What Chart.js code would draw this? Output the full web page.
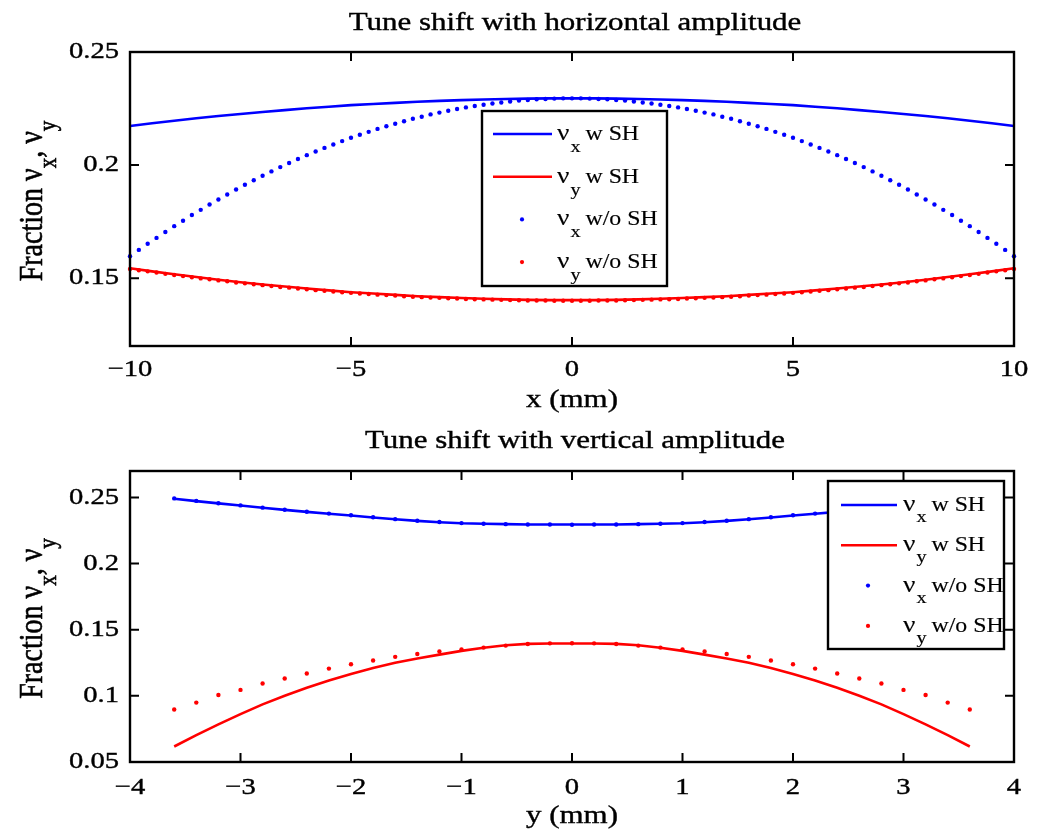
<!DOCTYPE html>
<html>
<head>
<meta charset="utf-8">
<title>Tune shift with amplitude</title>
<script src="https://cdn.jsdelivr.net/npm/chart.js@4/dist/chart.umd.min.js"></script>
<style>
  html, body { margin:0; padding:0; background:#ffffff; }
  .panel { position:absolute; left:0; width:1047px; height:416px; }
  canvas { display:block; }
</style>
</head>
<body>
<div class="panel" style="top:0"><canvas id="topChart" width="1047" height="416"></canvas></div>
<div class="panel" style="top:416px"><canvas id="bottomChart" width="1047" height="416"></canvas></div>
<script>
// ---------------- DATA ----------------
// Top panel: tune vs horizontal amplitude x (mm)
const xTopLine = [-10,-9.5,-9,-8.5,-8,-7.5,-7,-6.5,-6,-5.5,-5,-4.5,-4,-3.5,-3,-2.5,-2,-1.5,-1,-0.5,0,0.5,1,1.5,2,2.5,3,3.5,4,4.5,5,5.5,6,6.5,7,7.5,8,8.5,9,9.5,10];
const vxTopWithSH = [.2173,.2185,.2196,.2207,.2217,.2226,.2235,.2243,.2251,.2258,.2265,.2270,.2275,.2280,.2284,.2287,.2290,.2292,.2294,.2295,.2295,.2295,.2294,.2292,.2290,.2287,.2284,.2280,.2275,.2270,.2265,.2258,.2251,.2243,.2235,.2226,.2217,.2207,.2196,.2185,.2173];
const vyTopWithSH = [.1544,.1530,.1517,.1505,.1493,.1482,.1472,.1463,.1454,.1446,.1438,.1432,.1426,.1420,.1416,.1412,.1409,.1406,.1404,.1403,.1403,.1403,.1404,.1406,.1409,.1412,.1416,.1420,.1426,.1432,.1438,.1446,.1454,.1463,.1472,.1482,.1493,.1505,.1517,.1530,.1544];

const xTopDots = [-10,-9.8,-9.6,-9.4,-9.2,-9,-8.8,-8.6,-8.4,-8.2,-8,-7.8,-7.6,-7.4,-7.2,-7,-6.8,-6.6,-6.4,-6.2,-6,-5.8,-5.6,-5.4,-5.2,-5,-4.8,-4.6,-4.4,-4.2,-4,-3.8,-3.6,-3.4,-3.2,-3,-2.8,-2.6,-2.4,-2.2,-2,-1.8,-1.6,-1.4,-1.2,-1,-0.8,-0.6,-0.4,-0.2,0,0.2,0.4,0.6,0.8,1,1.2,1.4,1.6,1.8,2,2.2,2.4,2.6,2.8,3,3.2,3.4,3.6,3.8,4,4.2,4.4,4.6,4.8,5,5.2,5.4,5.6,5.8,6,6.2,6.4,6.6,6.8,7,7.2,7.4,7.6,7.8,8,8.2,8.4,8.6,8.8,9,9.2,9.4,9.6,9.8,10];
const vxTopWithoutSH = [.1597,.1625,.1652,.1678,.1704,.1730,.1754,.1779,.1802,.1826,.1848,.1870,.1892,.1913,.1933,.1953,.1972,.1991,.2009,.2027,.2044,.2060,.2076,.2091,.2106,.2121,.2134,.2147,.2160,.2172,.2183,.2194,.2205,.2214,.2224,.2232,.2240,.2248,.2255,.2261,.2267,.2272,.2277,.2281,.2285,.2288,.2291,.2292,.2294,.2295,.2295,
  .2295,.2294,.2292,.2291,.2288,.2285,.2281,.2277,.2272,.2267,.2261,.2255,.2248,.2240,.2232,.2224,.2214,.2205,.2194,.2183,.2172,.2160,.2147,.2134,.2121,.2106,.2091,.2076,.2060,.2044,.2027,.2009,.1991,.1972,.1953,.1933,.1913,.1892,.1870,.1848,.1826,.1802,.1779,.1754,.1730,.1704,.1678,.1652,.1625,.1597];
const vyTopWithoutSH = [.1541,.1535,.1530,.1525,.1519,.1514,.1509,.1504,.1499,.1495,.1490,.1486,.1481,.1477,.1473,.1469,.1465,.1461,.1458,.1454,.1451,.1447,.1444,.1441,.1438,.1435,.1432,.1430,.1427,.1425,.1423,.1420,.1418,.1416,.1414,.1413,.1411,.1410,.1408,.1407,.1406,.1405,.1404,.1403,.1402,.1401,.1401,.1401,.1400,.1400,.1400,
  .1400,.1400,.1401,.1401,.1401,.1402,.1403,.1404,.1405,.1406,.1407,.1408,.1410,.1411,.1413,.1414,.1416,.1418,.1420,.1423,.1425,.1427,.1430,.1432,.1435,.1438,.1441,.1444,.1447,.1451,.1454,.1458,.1461,.1465,.1469,.1473,.1477,.1481,.1486,.1490,.1495,.1499,.1504,.1509,.1514,.1519,.1525,.1530,.1535,.1541];

// Bottom panel: tune vs vertical amplitude y (mm)
const xBottom = [-3.6,-3.4,-3.2,-3,-2.8,-2.6,-2.4,-2.2,-2,-1.8,-1.6,-1.4,-1.2,-1,-0.8,-0.6,-0.4,-0.2,0,0.2,0.4,0.6,0.8,1,1.2,1.4,1.6,1.8,2,2.2,2.4,2.6,2.8,3,3.2,3.4,3.6];
const vxBottomWithSH = [.2490,.2472,.2455,.2439,.2422,.2406,.2391,.2377,.2364,.2349,.2335,.2323,.2313,.2305,.2301,.2298,.2296,.2295,.2295,.2295,.2296,.2298,.2301,.2305,.2313,.2323,.2335,.2349,.2364,.2377,.2391,.2406,.2422,.2439,.2455,.2472,.2490];
const vyBottomWithSH = [.0617,.0703,.0785,.0862,.0936,.1001,.1061,.1116,.1166,.1211,.1250,.1283,.1312,.1340,.1364,.1383,.1393,.1396,.1396,.1396,.1393,.1383,.1364,.1340,.1312,.1283,.1250,.1211,.1166,.1116,.1061,.1001,.0936,.0862,.0785,.0703,.0617];
const vxBottomWithoutSH = [.2493,.2474,.2456,.2440,.2423,.2407,.2392,.2378,.2365,.2350,.2336,.2324,.2314,.2306,.2301,.2298,.2296,.2295,.2294,.2295,.2296,.2298,.2301,.2306,.2314,.2324,.2336,.2350,.2365,.2378,.2392,.2407,.2423,.2440,.2456,.2474,.2493];
const vyBottomWithoutSH = [.0897,.0949,.1006,.1045,.1094,.1131,.1169,.1206,.1239,.1267,.1295,.1317,.1335,.1350,.1365,.1380,.1392,.1397,.1398,.1397,.1392,.1380,.1365,.1350,.1335,.1317,.1295,.1267,.1239,.1206,.1169,.1131,.1094,.1045,.1006,.0949,.0897];

// Ticks and labels
const xTicksTop = [-10,-5,0,5,10];
const xTickLabelsTop = ['\u221210','\u22125','0','5','10'];
const yTicksTop = [0.15,0.2,0.25];
const yTickLabelsTop = ['0.15','0.2','0.25'];
const xTicksBottom = [-4,-3,-2,-1,0,1,2,3,4];
const xTickLabelsBottom = ['\u22124','\u22123','\u22122','\u22121','0','1','2','3','4'];
const yTicksBottom = [0.05,0.1,0.15,0.2,0.25];
const yTickLabelsBottom = ['0.05','0.1','0.15','0.2','0.25'];

// Text
const titleTop = 'Tune shift with horizontal amplitude';
const titleBottom = 'Tune shift with vertical amplitude';
const xTitleTop = 'x (mm)';
const xTitleBottom = 'y (mm)';
const seriesSymbol = ['\u03bd','\u03bd','\u03bd','\u03bd'];
const seriesSub = ['x','y','x','y'];
const seriesRest = ['w SH','w SH','w/o SH','w/o SH'];

// ---------------- RENDERING ----------------
const SX = 1.19;
const FONT = '"Liberation Serif", "Times New Roman", Times, serif';
const BLUE = '#0000ff', RED = '#ff0000';
Chart.defaults.font.family = FONT;
Chart.defaults.color = '#000000';

function stretchContext(canvas) {
  const ctx = canvas.getContext('2d');
  const plain = ctx.fillText.bind(ctx);
  const plainStroke = ctx.strokeText.bind(ctx);
  ctx.textWeight = 0.4;
  ctx.plainFillText = function (t, x, y) {
    plain(t, x, y);
    ctx.save(); ctx.strokeStyle = ctx.fillStyle; ctx.lineWidth = 0.5; plainStroke(t, x, y); ctx.restore();
  };
  ctx.fillText = function (t, x, y) {
    this.save();
    this.translate(x, y);
    this.scale(SX, 1);
    plain(t, 0, 0);
    this.strokeStyle = this.fillStyle; this.lineWidth = this.textWeight;
    plainStroke(t, 0, 0);
    this.restore();
  };
}

const framePlugin = {
  id: 'frame',
  afterDatasetsDraw(chart, args, o) {
    const ctx = chart.ctx, a = chart.chartArea;
    const xs = chart.scales.x, ys = chart.scales.y;
    ctx.save();
    ctx.strokeStyle = '#000'; ctx.lineWidth = 2;
    const L = 9;
    ctx.beginPath();
    xs.ticks.forEach(t => {
      const px = xs.getPixelForValue(t.value);
      ctx.moveTo(px, a.bottom); ctx.lineTo(px, a.bottom - L);
      ctx.moveTo(px, a.top); ctx.lineTo(px, a.top + L);
    });
    ys.ticks.forEach(t => {
      const py = ys.getPixelForValue(t.value);
      ctx.moveTo(a.left, py); ctx.lineTo(a.left + L, py);
      ctx.moveTo(a.right, py); ctx.lineTo(a.right - L, py);
    });
    ctx.stroke();
    ctx.lineWidth = 2.4;
    ctx.strokeRect(a.left, a.top, a.right - a.left, a.bottom - a.top);

    // legend
    const lg = o.legend;
    ctx.fillStyle = '#fff';
    ctx.fillRect(lg.x, lg.y, lg.w, lg.h);
    ctx.strokeStyle = '#000'; ctx.lineWidth = 2.4;
    ctx.strokeRect(lg.x, lg.y, lg.w, lg.h);
    ctx.textWeight = 0.15;
    chart.data.datasets.forEach((ds, i) => {
      const ry = lg.y + lg.first + i * lg.step;
      if (ds.showLine) {
        ctx.strokeStyle = ds.borderColor; ctx.lineWidth = 2.5;
        ctx.beginPath(); ctx.moveTo(lg.x + lg.l0, ry); ctx.lineTo(lg.x + lg.l1, ry); ctx.stroke();
      } else {
        ctx.fillStyle = ds.pointBackgroundColor;
        ctx.beginPath(); ctx.arc(lg.x + lg.dot, ry, 2.1, 0, Math.PI * 2); ctx.fill();
      }
      ctx.fillStyle = '#000'; ctx.textAlign = 'left'; ctx.textBaseline = 'alphabetic';
      let tx = lg.x + lg.tx;
      ctx.font = '23px ' + FONT;
      ctx.fillText(seriesSymbol[i], tx, ry + 6);
      tx += ctx.measureText(seriesSymbol[i]).width * SX + 1;
      ctx.font = '17px ' + FONT;
      ctx.fillText(seriesSub[i], tx, ry + 6 + lg.subDy);
      tx += ctx.measureText(seriesSub[i]).width * SX + 5;
      ctx.font = '20px ' + FONT;
      ctx.fillText(seriesRest[i], tx, ry + 6);
    });
    ctx.textWeight = 0.4;
    ctx.restore();
  },
  afterDraw(chart, args, o) {
    const ctx = chart.ctx, a = chart.chartArea;
    ctx.save();
    ctx.fillStyle = '#000';
    // title
    ctx.font = '26px ' + FONT;
    ctx.textAlign = 'center'; ctx.textBaseline = 'alphabetic';
    ctx.fillText(o.title, (a.left + a.right) / 2 + 3, o.titleY);
    // y-axis title with subscripts
    const runs = [
      {t: 'Fraction \u03bd', s: 28, dy: 0},
      {t: 'x', s: 21, dy: 12},
      {t: ', \u03bd', s: 28, dy: 0},
      {t: 'y', s: 21, dy: 12}
    ];
    let total = 0;
    runs.forEach(r => { ctx.font = r.s + 'px ' + FONT; r.w = ctx.measureText(r.t).width; total += r.w; });
    ctx.translate(42, (a.top + a.bottom) / 2 + 2);
    ctx.rotate(-Math.PI / 2);
    ctx.scale(1, SX);
    ctx.textAlign = 'left';
    let x = -total / 2;
    runs.forEach(r => {
      ctx.font = r.s + 'px ' + FONT;
      ctx.plainFillText(r.t, x, r.dy);
      x += r.w;
    });
    ctx.restore();
  }
};

function buildChart(id, p) {
  const canvas = document.getElementById(id);
  stretchContext(canvas);
  const datasets = [
    { label: 'vx w SH', data: p.xLine.map((x, i) => ({x: x, y: p.vxWith[i]})), showLine: true,
      borderColor: BLUE, borderWidth: 2.6, pointRadius: 0, order: 2, clip: 4 },
    { label: 'vy w SH', data: p.xLine.map((x, i) => ({x: x, y: p.vyWith[i]})), showLine: true,
      borderColor: RED, borderWidth: 2.6, pointRadius: 0, order: 2, clip: 4 },
    { label: 'vx w/o SH', data: p.xDots.map((x, i) => ({x: x, y: p.vxWithout[i]})), showLine: false,
      pointRadius: 2.2, pointBackgroundColor: BLUE, pointBorderWidth: 0, borderColor: BLUE, order: 1, clip: 6 },
    { label: 'vy w/o SH', data: p.xDots.map((x, i) => ({x: x, y: p.vyWithout[i]})), showLine: false,
      pointRadius: 2.2, pointBackgroundColor: RED, pointBorderWidth: 0, borderColor: RED, order: 1, clip: 6 }
  ];
  return new Chart(canvas, {
    type: 'scatter',
    data: { datasets: datasets },
    options: {
      responsive: false, animation: false, events: [],
      layout: { padding: { left: 0, right: 33, top: p.padTop, bottom: 0 } },
      plugins: {
        legend: { display: false }, tooltip: { enabled: false },
        frame: { title: p.title, titleY: p.titleY, legend: p.legend }
      },
      scales: {
        x: {
          type: 'linear', position: 'bottom', min: p.xMin, max: p.xMax,
          grid: { display: false, drawTicks: false }, border: { display: false },
          afterBuildTicks: s => { s.ticks = p.xTicks.map(v => ({value: v})); },
          afterFit: s => { s.height = 70; },
          ticks: { font: { size: 24 }, padding: p.xTickPad, maxRotation: 0, autoSkip: false,
                   callback: (v, i) => p.xTickLabels[i] },
          title: { display: true, text: p.xTitle, font: { size: 26 }, padding: { top: 0, bottom: p.xTitlePad } }
        },
        y: {
          type: 'linear', position: 'left', min: p.yMin, max: p.yMax,
          grid: { display: false, drawTicks: false }, border: { display: false },
          afterBuildTicks: s => { s.ticks = p.yTicks.map(v => ({value: v})); },
          afterFit: s => { s.width = 130; },
          ticks: { font: { size: 24 }, padding: 11, autoSkip: false,
                   callback: (v, i) => p.yTickLabels[i] },
          title: { display: false }
        }
      }
    },
    plugins: [framePlugin]
  });
}

buildChart('topChart', {
  xLine: xTopLine, vxWith: vxTopWithSH, vyWith: vyTopWithSH,
  xDots: xTopDots, vxWithout: vxTopWithoutSH, vyWithout: vyTopWithoutSH,
  xMin: -10, xMax: 10, yMin: 0.12, yMax: 0.25,
  xTicks: xTicksTop, xTickLabels: xTickLabelsTop, yTicks: yTicksTop, yTickLabels: yTickLabelsTop,
  title: titleTop, titleY: 30, xTitle: xTitleTop, padTop: 52, xTickPad: 9, xTitlePad: 0,
  legend: { x: 482, y: 111, w: 185, h: 175, first: 23, step: 42.7, l0: 11, l1: 70, dot: 40, tx: 75, subDy: 12 }
});

buildChart('bottomChart', {
  xLine: xBottom, vxWith: vxBottomWithSH, vyWith: vyBottomWithSH,
  xDots: xBottom, vxWithout: vxBottomWithoutSH, vyWithout: vyBottomWithoutSH,
  xMin: -4, xMax: 4, yMin: 0.05, yMax: 0.27,
  xTicks: xTicksBottom, xTickLabels: xTickLabelsBottom, yTicks: yTicksBottom, yTickLabels: yTickLabelsBottom,
  title: titleBottom, titleY: 32, xTitle: xTitleBottom, padTop: 55, xTickPad: 11, xTitlePad: 0,
  legend: { x: 828, y: 65, w: 176, h: 168, first: 24, step: 40.3, l0: 13, l1: 69, dot: 40, tx: 75, subDy: 11 }
});
</script>
</body>
</html>
